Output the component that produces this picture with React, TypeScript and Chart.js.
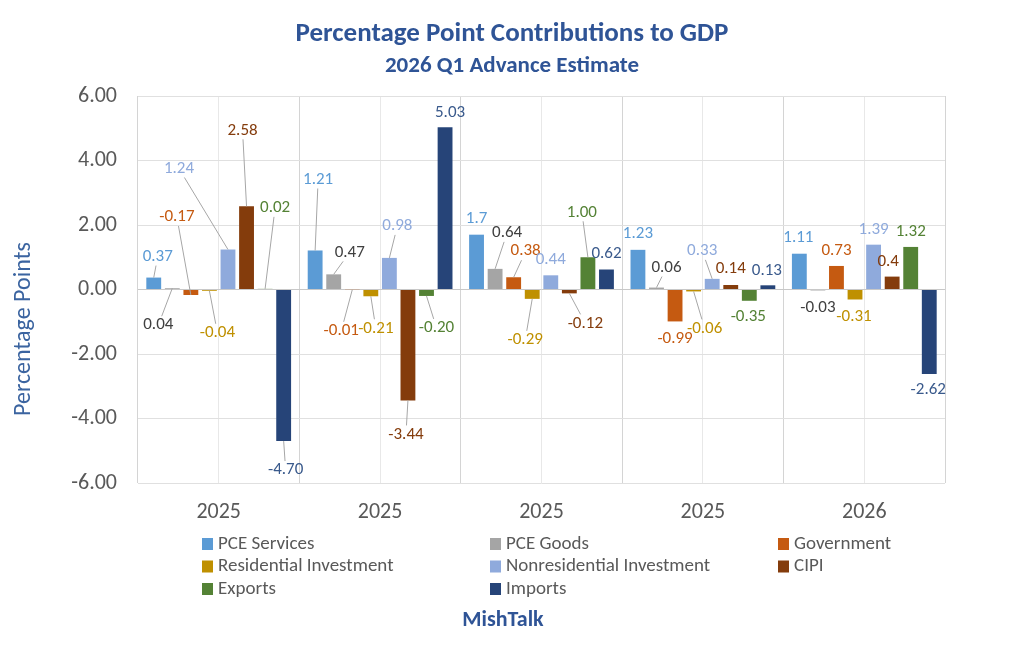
import React, { useEffect, useRef } from "react"
import Chart from "chart.js/auto"

const FONT = "Carlito, Lato, sans-serif"
const BLUE = "#2F5496"
const GRAY = "#595959"

const quarters = ["2025", "2025", "2025", "2025", "2026"]
const seriesNames = [
  "PCE Services",
  "PCE Goods",
  "Government",
  "Residential Investment",
  "Nonresidential Investment",
  "CIPI",
  "Exports",
  "Imports",
]

// values as printed in the data labels
const pceServices = ["0.37", "1.21", "1.7", "1.23", "1.11"]
const pceGoods = ["0.04", "0.47", "0.64", "0.06", "-0.03"]
const government = ["-0.17", "-0.01", "0.38", "-0.99", "0.73"]
const residential = ["-0.04", "-0.21", "-0.29", "-0.06", "-0.31"]
const nonresidential = ["1.24", "0.98", "0.44", "0.33", "1.39"]
const cipi = ["2.58", "-3.44", "-0.12", "0.14", "0.4"]
const exportsValues = ["0.02", "-0.20", "1.00", "-0.35", "1.32"]
const importsValues = ["-4.70", "5.03", "0.62", "0.13", "-2.62"]

const yTicks = [-6, -4, -2, 0, 2, 4, 6]

const series = [
  pceServices,
  pceGoods,
  government,
  residential,
  nonresidential,
  cipi,
  exportsValues,
  importsValues,
]

const barColors = ["#5B9BD5", "#A5A5A5", "#C55A11", "#BF9000", "#8FAADC", "#843C0C", "#548235", "#264478"]
const labelColors = ["#5B9BD5", "#404040", "#C55A11", "#BF9000", "#8FAADC", "#843C0C", "#548235", "#3A5A8C"]

// where each data label sits, relative to the end of its bar (px)
const labelOffsets = [
  [[4, -21], [3, -71], [0, -16], [0, -16], [-1, -16]],
  [[-14, 37], [16, -22], [12, -36], [10, -20], [0, 17]],
  [[-14, -78], [-11, 41], [12, -26], [0, 17], [0, -15]],
  [[8, 42], [5, 32], [-7, 41], [11, 37], [-1, 17]],
  [[-49, -81], [8, -32], [0, -16], [-10, -28], [0, -15]],
  [[-4, -76], [-2, 34], [16, 30], [0, -16], [-4, -15]],
  [[10, -81], [10, 32], [-6, -45], [-1, 16], [0, -15]],
  [[2, 29], [5, -15], [0, -16], [-1, -15], [-1, 16]],
]

const labelPlugin = {
  id: "barLabels",
  afterDatasetsDraw(chart: any) {
    const ctx = chart.ctx
    ctx.save()
    ctx.font = `17px ${FONT}`
    ctx.textAlign = "center"
    ctx.textBaseline = "middle"
    series.forEach((vals, i) => {
      const meta = chart.getDatasetMeta(i)
      meta.data.forEach((el: any, j: number) => {
        const [dx, dy] = labelOffsets[i][j]
        const text = vals[j]
        const cx = el.x + dx
        const cy = el.y + dy
        const w = ctx.measureText(text).width
        if (Math.abs(dy) >= 20 || Math.abs(dx) >= 6) {
          const hw = w / 2 + 2
          const hh = 9
          const vx = el.x - cx
          const vy = el.y - cy
          const t = Math.min(
            vx !== 0 ? hw / Math.abs(vx) : Infinity,
            vy !== 0 ? hh / Math.abs(vy) : Infinity
          )
          if (t < 1) {
            ctx.strokeStyle = "#A6A6A6"
            ctx.lineWidth = 1
            ctx.beginPath()
            ctx.moveTo(cx + vx * t, cy + vy * t)
            ctx.lineTo(el.x, el.y)
            ctx.stroke()
          }
        }
        ctx.fillStyle = labelColors[i]
        ctx.fillText(text, cx, cy)
      })
    })
    ctx.restore()
  },
}

// legend in three fixed columns, axis title and footer
const extrasPlugin = {
  id: "extras",
  afterDraw(chart: any) {
    const ctx = chart.ctx
    ctx.save()
    ctx.font = `19px ${FONT}`
    ctx.textAlign = "left"
    ctx.textBaseline = "middle"
    seriesNames.forEach((name, i) => {
      const x = 202 + (i % 3) * 288
      const y = 544 + Math.floor(i / 3) * 22.5
      ctx.fillStyle = barColors[i]
      ctx.fillRect(x, y - 6, 11, 12)
      ctx.fillStyle = GRAY
      ctx.fillText(name, x + 16, y)
    })

    ctx.font = `bold 22px ${FONT}`
    ctx.fillStyle = BLUE
    ctx.textAlign = "center"
    ctx.fillText("MishTalk", 503, 620)

    ctx.translate(24, 329)
    ctx.rotate(-Math.PI / 2)
    ctx.font = `24px ${FONT}`
    ctx.fillStyle = "#3B64A0"
    ctx.fillText("Percentage Points", 0, 0)
    ctx.restore()
  },
}

export default function App() {
  const ref = useRef<HTMLCanvasElement>(null)

  useEffect(() => {
    let chart: Chart | null = null
    if (ref.current) {
      chart = new Chart(ref.current, {
        type: "bar",
        data: {
          labels: quarters,
          datasets: series.map((vals, i) => ({
            label: seriesNames[i],
            data: vals.map(Number),
            backgroundColor: barColors[i],
            categoryPercentage: 0.92,
            barPercentage: 0.8,
          })),
        },
        options: {
          responsive: false,
          animation: false,
          layout: { padding: 0 },
          plugins: {
            legend: { display: false },
            tooltip: { enabled: false },
            title: {
              display: true,
              text: "Percentage Point Contributions to GDP",
              color: BLUE,
              font: { family: FONT, size: 27, weight: "bold" },
              padding: { top: 18, bottom: 0 },
            },
            subtitle: {
              display: true,
              text: "2026 Q1 Advance Estimate",
              color: BLUE,
              font: { family: FONT, size: 23, weight: "bold" },
              padding: { top: 2, bottom: 16 },
            },
          },
          scales: {
            x: {
              offset: true,
              grid: { offset: true, color: "#D4D4D4", drawTicks: false },
              border: { display: false },
              ticks: { color: GRAY, font: { family: FONT, size: 22 }, padding: 16 },
              afterFit: (s: any) => {
                s.height = 170
              },
            },
            x2: {
              type: "category",
              position: "bottom",
              offset: true,
              grid: { offset: false, color: "#E8E8E8", drawTicks: false },
              border: { display: false },
              ticks: { display: false },
              afterFit: (s: any) => {
                s.height = 0
              },
            },
            y: {
              min: yTicks[0],
              max: yTicks[yTicks.length - 1],
              ticks: {
                stepSize: 2,
                color: GRAY,
                font: { family: FONT, size: 22 },
                padding: 21,
                callback: (v: any) => Number(v).toFixed(2),
              },
              grid: {
                drawTicks: false,
                color: (c: any) => (c.tick && c.tick.value === 0 ? "#C8C8C8" : "#E0E0E0"),
              },
              border: { display: false },
              afterFit: (s: any) => {
                s.width = 138
              },
            },
            yRight: {
              type: "linear",
              position: "right",
              grid: { display: false },
              border: { display: false },
              ticks: { display: false },
              afterFit: (s: any) => {
                s.width = 79
              },
            },
          },
        },
        plugins: [labelPlugin, extrasPlugin],
      })
    }
    return () => {
      chart?.destroy()
    }
  }, [])

  return (
    <div style={{ position: "absolute", left: 0, top: 0, width: 1024, height: 653, background: "#fff" }}>
      <canvas ref={ref} width={1024} height={653} style={{ display: "block" }} />
    </div>
  )
}
